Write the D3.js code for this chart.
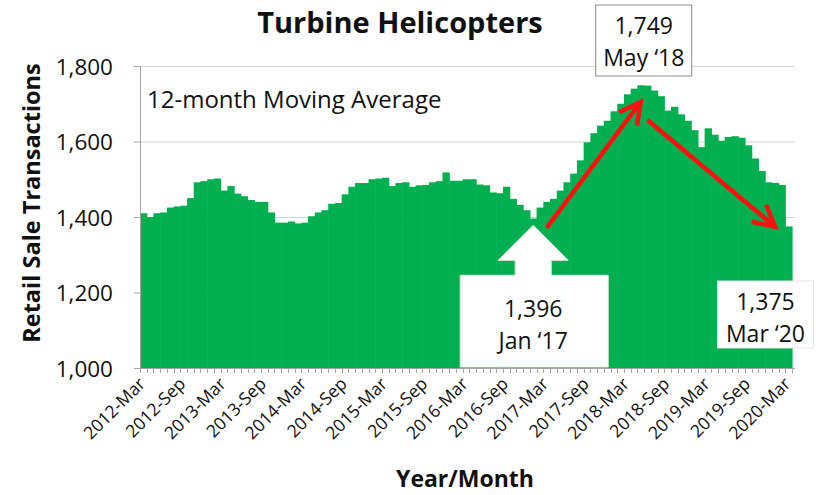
<!DOCTYPE html>
<html><head><meta charset="utf-8">
<script src="https://cdn.jsdelivr.net/npm/d3@7"></script>
<style>body{margin:0;background:#fff}svg{display:block}</style>
</head><body>
<svg id="c" width="816" height="495"></svg>
<script>
// ---- data ----
const startMonth = new Date(2012, 2, 1);
const fmt = d3.timeFormat("%Y-%b");
const categories = d3.timeMonth.range(startMonth, new Date(2020, 3, 1)).map(fmt); // 2012-Mar .. 2020-Mar
const values = [
  1410,1400,1410,1412,1425,1428,1430,1450,1492,1495,
  1500,1502,1470,1482,1462,1455,1445,1440,1440,1412,
  1385,1385,1388,1383,1385,1402,1412,1418,1435,1437,
  1460,1480,1490,1490,1500,1502,1504,1482,1490,1492,
  1480,1484,1485,1492,1495,1518,1496,1496,1500,1500,
  1486,1484,1465,1463,1480,1448,1432,1418,1396,1425,
  1440,1448,1470,1492,1515,1550,1598,1622,1642,1655,
  1680,1700,1725,1740,1749,1748,1735,1720,1682,1692,
  1672,1655,1630,1585,1635,1618,1602,1612,1614,1610,
  1590,1555,1522,1492,1490,1485,1375
];
const tickLabels = ["2012-Mar","2012-Sep","2013-Mar","2013-Sep","2014-Mar","2014-Sep","2015-Mar","2015-Sep","2016-Mar","2016-Sep","2017-Mar","2017-Sep","2018-Mar","2018-Sep","2019-Mar","2019-Sep","2020-Mar"];
const yTicks = [1000,1200,1400,1600,1800];
const gridValues = [1200,1400,1600,1800];
const callouts = [
  {cat:"2017-Jan", value:1378, line1:"1,396", line2:"Jan \u201817"},
];
const boxes = [
  {cat:"2018-May", line1:"1,749", line2:"May \u201818"},
  {cat:"2019-Dec", line1:"1,375", line2:"Mar \u201820"}
];
const trendArrows = [
  {from:["2017-Mar",1371], to:["2018-May",1705]},
  {from:["2018-Jun",1657], to:["2020-Jan",1374]}
];

// ---- chart ----
const svg = d3.select("#c");
const FONT = "'Open Sans', sans-serif";
const x = d3.scaleBand().domain(categories).range([140, 792]).padding(0);
const y = d3.scaleLinear().domain([1000, 1800]).range([368, 66]);
const bw = x.bandwidth();

// gridlines
svg.append("g").selectAll("line").data(gridValues).join("line")
  .attr("x1", 140).attr("x2", 795)
  .attr("y1", d => y(d) + 0.5).attr("y2", d => y(d) + 0.5)
  .attr("stroke", "#d4d4d4").attr("stroke-width", 1);

// bars
svg.append("g").selectAll("rect").data(values).join("rect")
  .attr("x", (d, i) => x(categories[i]))
  .attr("width", bw + 0.6)
  .attr("y", d => y(d))
  .attr("height", d => y(1000) - y(d))
  .attr("fill", "#00B050");

// y axis
const yAxis = d3.axisLeft(y).tickValues(yTicks).tickSize(6).tickPadding(21)
  .tickFormat(d3.format(","));
const gy = svg.append("g").attr("transform", "translate(140,0)").call(yAxis);
gy.select(".domain").attr("stroke", "#a6a6a6");
gy.selectAll(".tick line").attr("stroke", "#a6a6a6");
gy.selectAll(".tick text").attr("font-family", FONT).attr("font-size", 22.5)
  .attr("fill", "#111").attr("dy", "0.36em");

// x axis with minor month ticks
const gx = svg.append("g").attr("transform", "translate(0,368)");
gx.append("line").attr("x1", 140).attr("x2", 795).attr("y1", 0.5).attr("y2", 0.5)
  .attr("stroke", "#a6a6a6");
gx.selectAll("line.m").data(categories.concat(["end"])).join("line").attr("class", "m")
  .attr("x1", (d, i) => Math.round(140 + i * bw) + 0.5)
  .attr("x2", (d, i) => Math.round(140 + i * bw) + 0.5)
  .attr("y1", 0).attr("y2", 5).attr("stroke", "#a6a6a6");
gx.selectAll("text").data(tickLabels).join("text")
  .attr("transform", d => `translate(${x(d) + bw / 2 + 3},${17}) rotate(-45)`)
  .attr("text-anchor", "end")
  .attr("font-family", FONT).attr("font-size", 17.5).attr("fill", "#111")
  .text(d => d);

// titles
svg.append("text").attr("x", 400).attr("y", 33).attr("text-anchor", "middle")
  .attr("font-family", FONT).attr("font-weight", "bold").attr("font-size", 29)
  .attr("fill", "#111").text("Turbine Helicopters");
svg.append("text").attr("x", 465).attr("y", 487).attr("text-anchor", "middle")
  .attr("font-family", FONT).attr("font-weight", "bold").attr("font-size", 23)
  .attr("fill", "#111").text("Year/Month");
svg.append("text").attr("transform", "translate(40,203) rotate(-90)").attr("text-anchor", "middle")
  .attr("font-family", FONT).attr("font-weight", "bold").attr("font-size", 23.5)
  .attr("fill", "#111").text("Retail Sale Transactions");
svg.append("text").attr("x", 147).attr("y", 108)
  .attr("font-family", FONT).attr("font-size", 24).attr("fill", "#111")
  .text("12-month Moving Average");

// red trend arrows
const red = "#FF1010";
trendArrows.forEach(a => {
  const x1 = x(a.from[0]) + bw / 2, y1 = y(a.from[1]);
  const x2 = x(a.to[0]) + bw / 2, y2 = y(a.to[1]);
  const ang = Math.atan2(y2 - y1, x2 - x1);
  const L = 24, spread = Math.PI / 6.5;
  svg.append("line").attr("x1", x1).attr("y1", y1).attr("x2", x2 - 2 * Math.cos(ang)).attr("y2", y2 - 2 * Math.sin(ang))
    .attr("stroke", red).attr("stroke-width", 4.5);
  const p = d3.path();
  p.moveTo(x2 - L * Math.cos(ang - spread), y2 - L * Math.sin(ang - spread));
  p.lineTo(x2, y2);
  p.lineTo(x2 - L * Math.cos(ang + spread), y2 - L * Math.sin(ang + spread));
  svg.append("path").attr("d", p.toString()).attr("fill", "none")
    .attr("stroke", red).attr("stroke-width", 4.5).attr("stroke-linejoin", "miter");
});

// up-arrow callout
callouts.forEach(c => {
  const tx = x(c.cat) + bw / 2, ty = y(c.value);
  const headH = 35, shaftH = 15, headHW = 35, shaftHW = 18;
  const boxL = tx - 73, boxR = tx + 75, boxB = y(1000) - 1;
  const p = d3.path();
  p.moveTo(tx, ty);
  p.lineTo(tx + headHW, ty + headH);
  p.lineTo(tx + shaftHW, ty + headH);
  p.lineTo(tx + shaftHW, ty + headH + shaftH);
  p.lineTo(boxR, ty + headH + shaftH);
  p.lineTo(boxR, boxB);
  p.lineTo(boxL, boxB);
  p.lineTo(boxL, ty + headH + shaftH);
  p.lineTo(tx - shaftHW, ty + headH + shaftH);
  p.lineTo(tx - shaftHW, ty + headH);
  p.lineTo(tx - headHW, ty + headH);
  p.closePath();
  svg.append("path").attr("d", p.toString()).attr("fill", "#fff").attr("stroke", "#e8e8e8");
  svg.append("text").attr("x", tx).attr("y", ty + 92).attr("text-anchor", "middle")
    .attr("font-family", FONT).attr("font-size", 23).attr("fill", "#111").text(c.line1);
  svg.append("text").attr("x", tx).attr("y", ty + 124).attr("text-anchor", "middle")
    .attr("font-family", FONT).attr("font-size", 23).attr("fill", "#111").text(c.line2);
});

// value boxes
const boxTop = [5, 281];
const boxShift = [3, -3];
boxes.forEach((b, i) => {
  const cx = x(b.cat) + bw / 2 + boxShift[i], top = boxTop[i];
  svg.append("rect").attr("x", cx - 48).attr("y", top).attr("width", 96).attr("height", i === 0 ? 71 : 67)
    .attr("fill", "#fff").attr("stroke", i === 0 ? "#8c8c8c" : "#e6e6e6");
  svg.append("text").attr("x", cx).attr("y", top + 29).attr("text-anchor", "middle")
    .attr("font-family", FONT).attr("font-size", 23).attr("fill", "#111").text(b.line1);
  svg.append("text").attr("x", cx).attr("y", top + 61).attr("text-anchor", "middle")
    .attr("font-family", FONT).attr("font-size", 23).attr("fill", "#111").text(b.line2);
});
</script>
</body></html>
